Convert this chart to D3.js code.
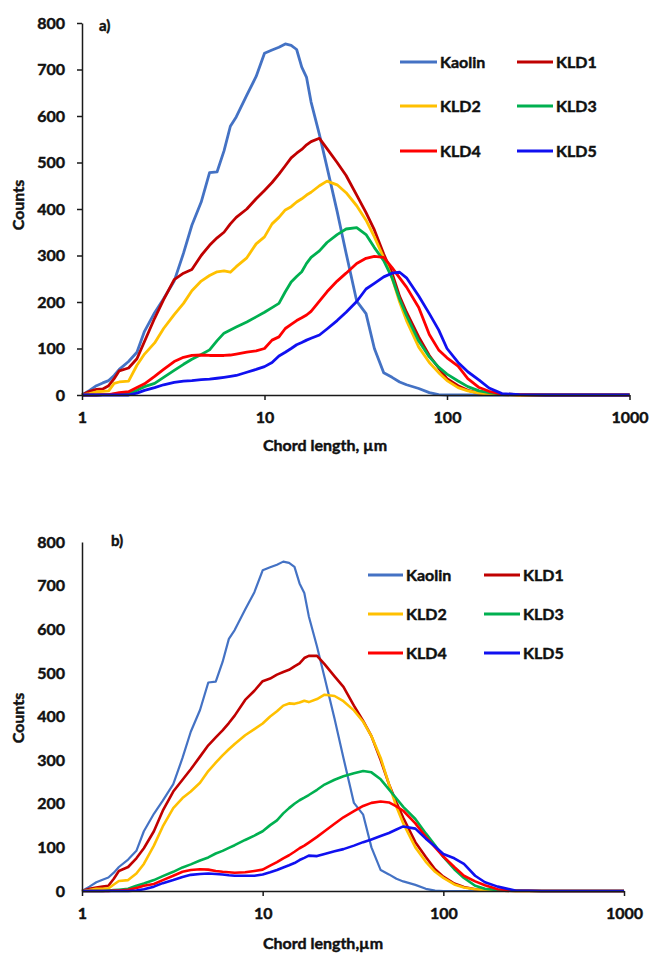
<!DOCTYPE html>
<html>
<head>
<meta charset="utf-8">
<script src="https://cdn.jsdelivr.net/npm/d3@7"></script>
<style>
  html, body { margin: 0; padding: 0; background: #fff; }
  svg text { font-family: Lato, "Open Sans", sans-serif; font-weight: 700; fill: #111; stroke: #111; stroke-width: 0.45px; }
</style>
</head>
<body>
<svg id="chart" width="650" height="953"></svg>
<script>
// Chord length channels (µm)
const chordLength = [1,1.1,1.2,1.3,1.4,1.5,1.6,1.8,2,2.2,2.5,2.8,3.2,3.6,4,4.5,5,5.5,6,6.5,7,8,9,10,11,12,13,14,15,16,17,18,20,22,25,28,32,36,40,45,50,55,60,70,80,90,100,115,130,150,170,200,250,350,500,1000];

const seriesNames = ["Kaolin", "KLD1", "KLD2", "KLD3", "KLD4", "KLD5"];
const seriesColors = ["#4472C4", "#C00000", "#FFC000", "#00B050", "#FF0000", "#1010F0"];

const xTicks = [1, 10, 100, 1000];
const yTicks = [0, 100, 200, 300, 400, 500, 600, 700, 800];

// Untreated kaolin (same sample in both panels)
const kaolin = [0,10,20,26,31,42,55,72,92,137,177,207,245,305,365,415,478,480,525,578,598,645,685,735,742,748,755,752,743,705,683,630,560,490,395,305,202,175,100,48,38,28,22,14,5,1,0,0,0,0,0,0,0,0,0,0];

// Panel a)
const kld1A = [0,8,12,13,20,35,52,58,78,115,165,205,248,262,270,300,322,338,350,368,382,400,422,440,457,475,493,510,520,528,538,545,552,530,500,472,430,392,355,303,262,212,178,125,85,58,35,20,10,4,2,1,0,0,0,0];
const kld2A = [0,3,7,8,9,25,28,30,64,88,112,143,173,197,224,245,257,265,267,264,276,295,325,340,368,382,398,405,415,422,430,436,450,460,452,435,407,376,340,295,252,200,160,103,70,48,31,16,9,4,2,1,0,0,0,0];
const kld3A = [0,0,0,1,1,2,2,3,10,18,25,38,53,66,77,87,97,117,133,140,146,157,168,178,188,197,222,243,255,265,283,296,310,328,345,357,360,345,317,289,252,206,171,116,82,60,45,30,18,9,5,2,1,0,0,0];
const kld4A = [0,0,0,1,1,3,5,7,16,24,40,55,72,81,85,86,85,85,85,86,88,92,95,100,118,125,143,152,160,166,172,180,202,222,245,262,283,294,298,296,274,252,232,188,130,97,80,62,35,16,8,2,1,0,0,0];
const kld5A = [0,0,0,0,0,0,0,0,4,10,16,22,27,30,31,33,34,36,38,40,42,49,55,61,70,84,92,100,108,113,118,122,129,142,160,178,201,228,240,254,262,264,252,213,175,140,100,70,50,32,15,3,1,0,0,0];

// Panel b)
const kld1B = [0,5,8,10,12,28,46,55,75,98,137,184,228,255,279,308,334,352,368,385,402,438,459,481,487,496,502,507,515,522,534,539,539,520,492,468,425,390,355,300,245,203,168,112,78,50,33,17,9,4,2,1,0,0,0,0];
const kld2B = [0,2,5,5,6,15,23,25,40,62,104,148,190,213,228,248,275,294,311,325,337,357,371,384,400,412,425,430,429,432,436,433,440,450,447,435,414,388,355,305,245,193,155,100,67,44,30,15,8,4,2,1,0,0,0,0];
const kld3B = [0,0,0,0,1,2,3,5,12,17,25,34,44,54,61,70,77,86,92,99,105,117,127,137,151,162,178,190,200,208,214,220,232,244,255,263,270,275,272,256,233,212,193,165,132,105,78,50,30,12,5,2,1,0,0,0];
const kld4B = [0,0,0,0,0,1,1,3,7,12,16,25,35,44,48,50,49,46,44,43,42,43,46,49,58,66,75,82,90,98,104,111,124,137,154,169,183,195,202,205,203,194,184,155,124,100,79,55,35,22,13,4,1,0,0,0];
const kld5B = [0,0,0,0,0,0,0,0,1,4,10,18,25,32,37,39,40,39,38,36,35,35,35,38,43,48,54,59,64,71,76,81,80,85,91,96,104,112,118,126,133,141,148,143,120,102,85,75,62,35,20,10,1,0,0,0];

const panels = [
  {
    tag: "a)", xTitle: "Chord length, µm",
    series: [kaolin, kld1A, kld2A, kld3A, kld4A, kld5A],
    left: 82, right: 629.5, top: 23, bottom: 395,
    yTickSize: 5, lineWidths: [2.8, 2.8, 2.8, 2.8, 2.8, 2.8],
    tagPos: [99, 31], countsY: 205, xTitlePos: [325, 451],
    legend: { rows: [62, 106, 151], cols: [[400, 437, 440], [517, 553, 556]] }
  },
  {
    tag: "b)", xTitle: "Chord length,µm",
    series: [kaolin, kld1B, kld2B, kld3B, kld4B, kld5B],
    left: 82, right: 624, top: 542, bottom: 891,
    yTickSize: 0, lineWidths: [2.2, 2.6, 2.6, 2.6, 2.6, 2.6],
    tagPos: [111, 546], countsY: 718, xTitlePos: [323, 949],
    legend: { rows: [575, 614, 653], cols: [[368, 403, 406], [484, 520, 523]] }
  }
];

const svg = d3.select("#chart");

panels.forEach(p => {
  const g = svg.append("g");
  const x = d3.scaleLog().domain([1, 1000]).range([p.left, p.right]);
  const y = d3.scaleLinear().domain([0, 800]).range([p.bottom, p.top]);

  // curves
  const line = d3.line()
    .x((d, i) => x(chordLength[i]))
    .y(d => y(d));
  p.series.forEach((vals, k) => {
    g.append("path")
      .datum(vals)
      .attr("d", line)
      .attr("fill", "none")
      .attr("stroke", seriesColors[k])
      .attr("stroke-width", p.lineWidths[k])
      .attr("stroke-linejoin", "round");
  });

  // y axis
  const yAxis = g.append("g")
    .attr("transform", `translate(${p.left},0)`)
    .call(d3.axisLeft(y).tickValues(yTicks).tickFormat(d3.format("d"))
      .tickSize(p.yTickSize).tickSizeOuter(0).tickPadding(17 - p.yTickSize));
  yAxis.select(".domain").attr("stroke", "#1a1a1a").attr("stroke-width", 1.5);
  yAxis.selectAll(".tick line").attr("stroke", "#1a1a1a").attr("stroke-width", 1.5);
  yAxis.selectAll(".tick text").attr("font-size", 16).attr("font-family", null).attr("fill", null);

  // x axis
  const xAxis = g.append("g")
    .attr("transform", `translate(0,${p.bottom})`)
    .call(d3.axisBottom(x).tickValues(xTicks).tickFormat(d3.format("d"))
      .tickSize(5).tickSizeOuter(0).tickPadding(12));
  xAxis.select(".domain").attr("stroke", "#1a1a1a").attr("stroke-width", 1.5);
  xAxis.selectAll(".tick line").attr("stroke", "#1a1a1a").attr("stroke-width", 1.5);
  xAxis.selectAll(".tick text").attr("font-size", 16).attr("font-family", null).attr("fill", null);

  // panel tag and titles
  g.append("text").attr("x", p.tagPos[0]).attr("y", p.tagPos[1])
    .attr("font-size", 15).text(p.tag);
  g.append("text")
    .attr("transform", `translate(24,${p.countsY}) rotate(-90)`)
    .attr("text-anchor", "middle").attr("font-size", 16).text("Counts");
  g.append("text").attr("x", p.xTitlePos[0]).attr("y", p.xTitlePos[1])
    .attr("text-anchor", "middle").attr("font-size", 16).text(p.xTitle);

  // legend: three rows, two columns
  seriesNames.forEach((name, k) => {
    const row = Math.floor(k / 2), col = k % 2;
    const c = p.legend.cols[col], yy = p.legend.rows[row];
    g.append("line")
      .attr("x1", c[0]).attr("x2", c[1]).attr("y1", yy).attr("y2", yy)
      .attr("stroke", seriesColors[k]).attr("stroke-width", 3);
    g.append("text").attr("x", c[2]).attr("y", yy).attr("dy", "0.36em")
      .attr("font-size", 16).text(name);
  });
});
</script>
</body>
</html>
